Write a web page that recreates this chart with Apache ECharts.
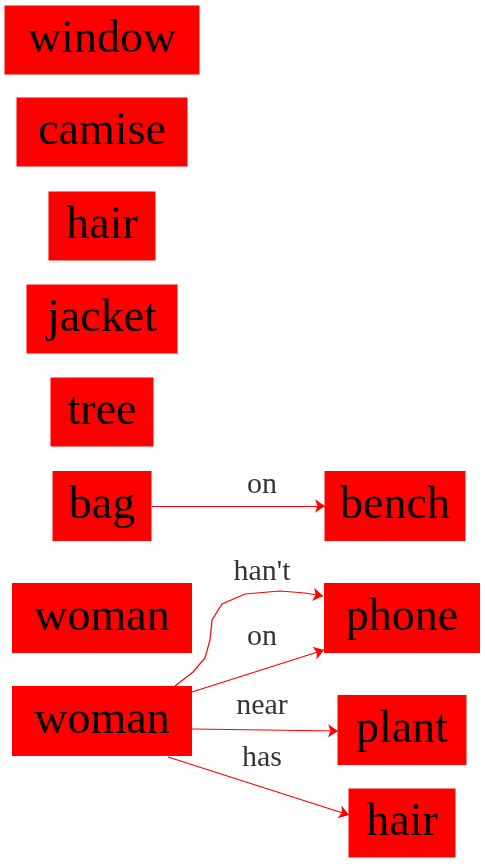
<!DOCTYPE html>
<html>
<head>
<meta charset="utf-8">
<script src="https://cdn.jsdelivr.net/npm/echarts@6/dist/echarts.min.js"></script>
<style>html,body{margin:0;padding:0;background:#fff}#main{width:485px;height:864px}</style>
</head>
<body>
<div id="main"></div>
<script>
// node labels
var nodeNames = ["window", "camise", "hair", "jacket", "tree", "bag", "bench", "woman", "phone", "woman", "plant", "hair"];
// relations: [source index, target index, label]
var relations = [[5, 6, "on"], [9, 8, "han't"], [9, 8, "on"], [9, 10, "near"], [9, 11, "has"]];

// layout of boxes: centre x, centre y, width, height (pixels)
var boxes = [
    [102, 40, 195, 69], [102, 132, 171, 69], [102, 226, 107, 69], [102, 319, 151, 69],
    [102, 412, 103, 69], [102, 506, 99, 70], [395, 506, 141, 70], [102, 618, 180, 70],
    [402, 618, 156, 70], [102, 721, 180, 70], [402, 730, 129, 70], [402, 823, 107, 69]
];
// edge routing and label placement
var edgeLines = [
    [[152, 506], [325, 506]],
    [[212, 612], [323, 596]],
    [[192, 692], [324, 650]],
    [[192, 729], [338, 731]],
    [[168, 757], [349, 815]]
];
var curveHant = [[175, 686], [193, 672], [205, 658], [210, 640], [212, 620], [222, 604], [245, 594], [280, 591], [305, 593]];
var labelPos = [[262, 485], [262, 572], [262, 637], [262, 706], [262, 758]];

var myChart = echarts.init(document.getElementById("main"));
var font = "Liberation Serif";

var option = {
    animation: false,
    grid: {left: 0, right: 0, top: 0, bottom: 0},
    xAxis: {type: "value", min: 0, max: 485, show: false},
    yAxis: {type: "value", min: 0, max: 864, inverse: true, show: false},
    series: [
        {
            type: "lines", coordinateSystem: "cartesian2d", polyline: true, z: 1,
            lineStyle: {color: "#ff0000", width: 1.2, opacity: 1},
            data: [{coords: curveHant}]
        },
        {
            type: "lines", coordinateSystem: "cartesian2d", z: 1,
            symbol: ["none", "arrow"], symbolSize: 10,
            lineStyle: {color: "#ff0000", width: 1.2, opacity: 1},
            data: relations.map(function (r, i) {
                var c = edgeLines[i];
                if (i === 1) c = [[305, 593], [323, 596]];
                return {coords: c};
            })
        },
        {
            type: "scatter", symbolSize: 0, z: 3,
            label: {show: true, position: "inside", color: "#000", fontFamily: font, fontSize: 30,
                formatter: function (p) { return p.data.name; }},
            data: relations.map(function (r, i) {
                return {name: r[2], value: labelPos[i]};
            })
        },
        {
            type: "scatter", symbol: "rect", z: 2,
            itemStyle: {color: "#ff0000", opacity: 1},
            label: {show: true, position: "inside", color: "#000", fontFamily: font, fontSize: 46,
                formatter: function (p) { return p.data.name; }},
            data: nodeNames.map(function (n, i) {
                var b = boxes[i];
                return {name: n, value: [b[0], b[1]], symbolSize: [b[2], b[3]]};
            })
        }
    ]
};
myChart.setOption(option);
</script>
</body>
</html>
